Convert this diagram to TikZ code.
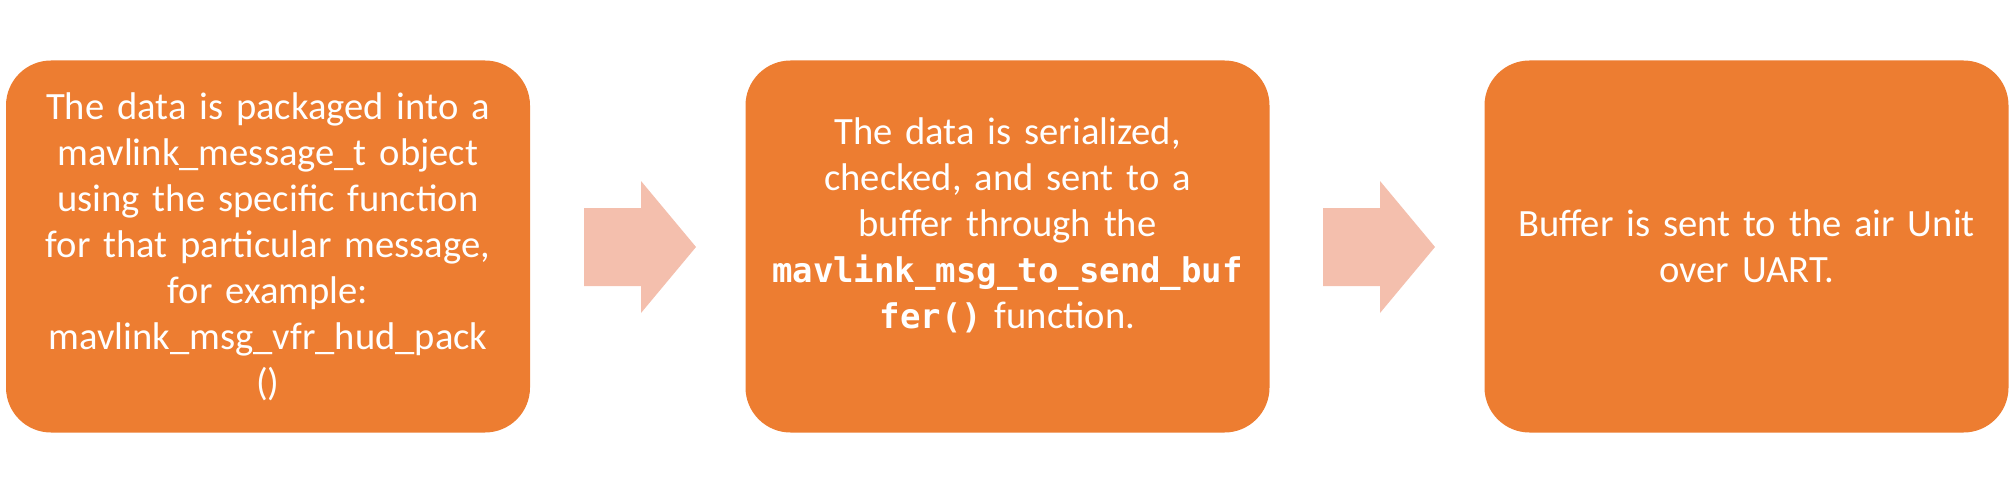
\documentclass[tikz,border=0pt]{standalone}
\usepackage{fontspec}
\setmainfont{Carlito}
\newfontfamily\codefont{DejaVu Sans Mono}
\definecolor{boxorange}{HTML}{ED7D31}
\definecolor{arrowpink}{HTML}{F4BFAD}
\begin{document}
\begin{tikzpicture}[x=0.5pt,y=-0.5pt,
  stepbox/.style={fill=boxorange, rounded corners=22.5pt, minimum width=262pt,
    minimum height=186pt, text=white, align=center,
    font=\fontsize{19.3}{23}\selectfont, inner sep=0pt, text width=260pt},
  blockarrow/.style={fill=arrowpink, draw=none}
]
\useasboundingbox (0,0) rectangle (2013,492);
\node[stepbox] (b1) at (268,246.5) {The data is packaged into a\\
mavlink\_message\_t object\\
using the specific function\\
for that particular message,\\
for example:\\
mavlink\_msg\_vfr\_hud\_pack\\
()};
\node[stepbox] (b2) at (1007.5,246.5) {The data is serialized,\\
checked, and sent to a\\
buffer through the\\
{\codefont\bfseries\fontsize{17}{23}\selectfont mavlink\_msg\_to\_send\_buf}\\
{\codefont\bfseries\fontsize{17}{23}\selectfont fer()} function.\\
\mbox{}};
\node[stepbox] (b3) at (1746.5,246.5) {Buffer is sent to the air Unit\\
over UART.};
\fill[blockarrow] (584,208) -- (641,208) -- (641,181) -- (696,247) -- (641,313) -- (641,286) -- (584,286) -- cycle;
\fill[blockarrow] (1323,208) -- (1380,208) -- (1380,181) -- (1435,247) -- (1380,313) -- (1380,286) -- (1323,286) -- cycle;
\end{tikzpicture}
\end{document}
